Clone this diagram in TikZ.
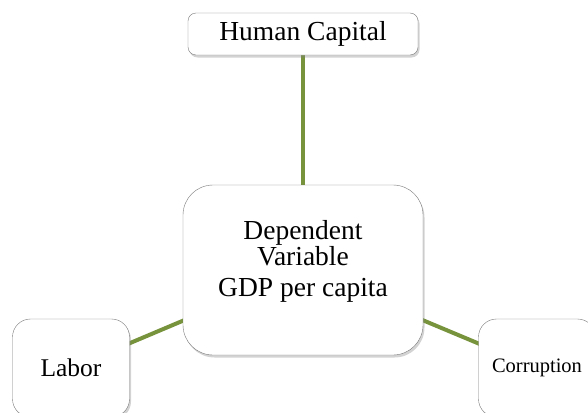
\documentclass[tikz,border=0pt]{standalone}
\usepackage{fontspec}
\setmainfont{Liberation Serif}
\usetikzlibrary{shadows, backgrounds}
\definecolor{linkgreen}{HTML}{77933C}
\definecolor{boxline}{HTML}{7A7A7A}

\begin{document}
\begin{tikzpicture}[
  x=1pt, y=-1pt,
  boxshadow/.style={drop shadow={opacity=0.35, shadow xshift=1.5pt, shadow yshift=-2.5pt}},
  topbox/.style={rectangle, draw=boxline, fill=white, rounded corners=8pt, align=center, minimum width=230pt, minimum height=42pt, boxshadow, font=\fontsize{27.5}{30}\selectfont},
  mainbox/.style={rectangle, draw=boxline, fill=white, rounded corners=30pt, align=center, minimum width=240pt, minimum height=170pt, boxshadow, font=\fontsize{27.5}{24}\selectfont},
  factor/.style={rectangle, draw=boxline, fill=white, rounded corners=18pt, align=center, minimum width=117pt, minimum height=98pt, boxshadow},
  link/.style={draw=linkgreen, line width=4pt},
]
\useasboundingbox (0,0) rectangle (588,412);

\node[topbox] (human) at (303,34) {Human Capital};
\node[mainbox] (gdp) at (303,270) {Dependent\\Variable\\[7pt]GDP per capita\\\mbox{}};
\node[factor, font=\fontsize{25.5}{28}\selectfont] (labor) at (71,368) {Labor};
\node[factor, font=\fontsize{20.5}{24}\selectfont] (corruption) at (537,368) {Corruption};

\begin{pgfonlayer}{background}
\draw[link] (human.center) -- (gdp.center);
\draw[link] (gdp.center) -- (labor.center);
\draw[link] (gdp.center) -- (corruption.center);
\end{pgfonlayer}
\end{tikzpicture}
\end{document}
